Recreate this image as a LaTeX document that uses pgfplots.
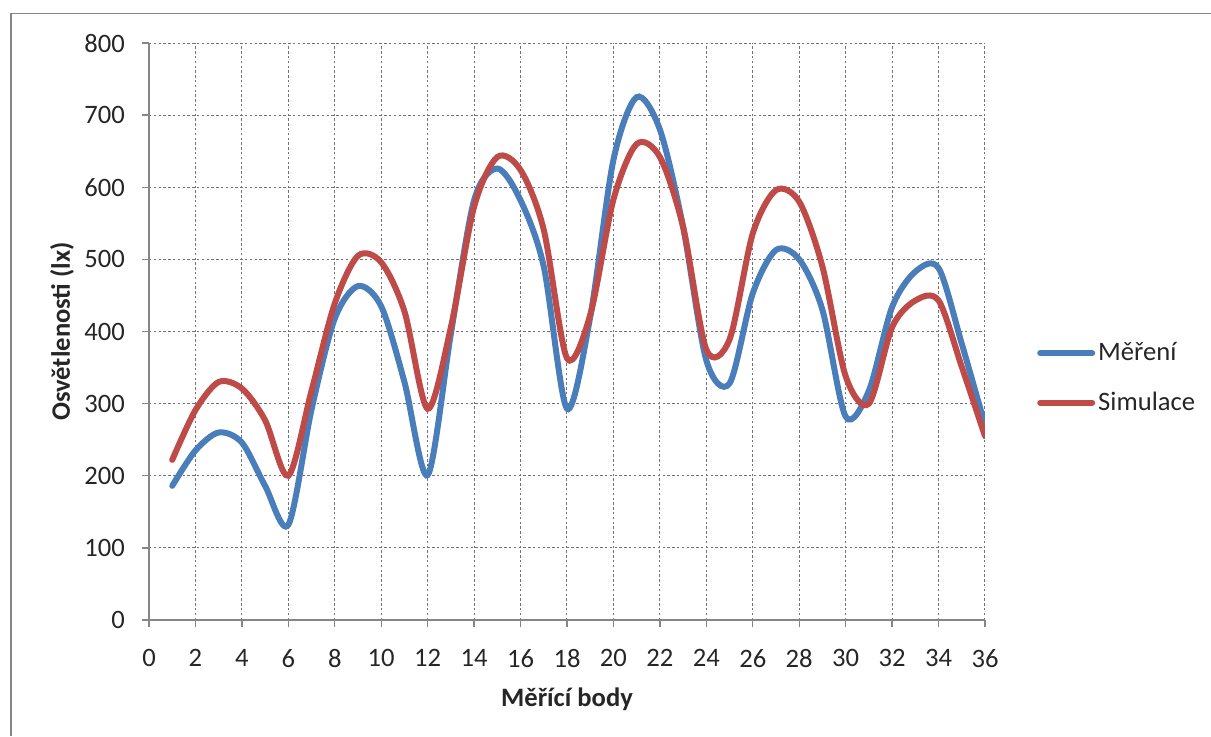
\documentclass[border=0pt]{standalone}
\usepackage{pgfplots}
\pgfplotsset{compat=1.18}
\usepackage{fontspec}
\setmainfont{Carlito}
\definecolor{mblue}{HTML}{4A7EBB}
\definecolor{mred}{HTML}{BE4B48}
\definecolor{axgray}{HTML}{868686}
\definecolor{txt}{HTML}{262626}
\begin{document}
\begin{tikzpicture}
\useasboundingbox (0,0) rectangle (605.5pt,368pt);
\draw[axgray, line width=0.8pt] (5.5pt,0pt) -- (5.5pt,361.25pt) -- (605.5pt,361.25pt);
\begin{axis}[
  at={(74.5pt,58pt)}, anchor=south west,
  scale only axis,
  width=418pt, height=288.5pt,
  xmin=0, xmax=36, ymin=0, ymax=800,
  xtick={0,2,...,36}, ytick={0,100,...,800},
  axis lines*=left,
  axis line style={axgray, line width=0.9pt},
  tick align=outside,
  major tick length=3.5pt,
  tick style={axgray, line width=0.7pt},
  grid=major,
  major grid style={black!55, line width=0.5pt, dash pattern=on 1.2pt off 1.2pt},
  /pgf/number format/assume math mode=true,
  font=\fontsize{13.3pt}{15pt}\selectfont\color{txt},
  xticklabel style={font=\fontsize{13.3pt}{15pt}\selectfont\color{txt}, yshift=-7.5pt},
  yticklabel style={font=\fontsize{13.3pt}{15pt}\selectfont\color{txt}, xshift=-5pt},
  xlabel={\textbf{Měřící body}},
  ylabel={\textbf{Osvětlenosti (lx)}},
  xlabel style={at={(axis description cs:0.5,-0.137)}, anchor=center},
  ylabel style={at={(axis description cs:-0.1041,0.5)}, anchor=center},
  legend style={at={(axis description cs:1.062,0.4194)}, anchor=west, draw=none, fill=none,
    inner sep=0pt, row sep=11pt, font=\fontsize{13.3pt}{15pt}\selectfont\color{txt},
    nodes={inner sep=1.5pt}},
  legend cell align=left,
  legend image code/.code={\draw[#1, line cap=round] (0pt,0pt) -- (26pt,0pt);},
]
\addplot[mblue, line width=3pt, smooth, tension=0.5, line cap=round] coordinates {
(1,186) (2,235) (3,260) (4,246) (5,186) (6,132) (7,292) (8,418) (9,463) (10,435)
(11,330) (12,201) (13,397) (14,582) (15,626) (16,582) (17,490) (18,293) (19,420) (20,638)
(21,725) (22,680) (23,545) (24,360) (25,328) (26,453) (27,513) (28,500) (29,430) (30,282)
(31,318) (32,434) (33,483) (34,488) (35,383) (36,270)
};
\addlegendentry{Měření}
\addplot[mred, line width=3pt, smooth, tension=0.5, line cap=round] coordinates {
(1,222) (2,291) (3,330) (4,321) (5,277) (6,200) (7,318) (8,439) (9,505) (10,496)
(11,428) (12,293) (13,406) (14,573) (15,642) (16,624) (17,541) (18,363) (19,423) (20,583)
(21,660) (22,642) (23,545) (24,375) (25,389) (26,536) (27,596) (28,580) (29,490) (30,338)
(31,300) (32,406) (33,443) (34,443) (35,351) (36,255)
};
\addlegendentry{Simulace}
\end{axis}
\end{tikzpicture}
\end{document}
